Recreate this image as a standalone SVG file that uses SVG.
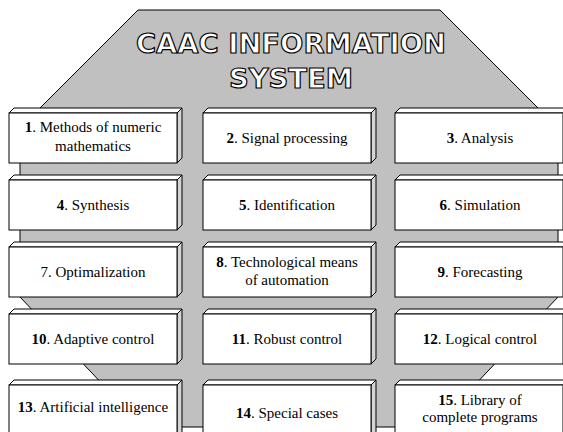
<svg xmlns="http://www.w3.org/2000/svg" width="563" height="432" viewBox="0 0 563 432">
<style>
.bg{fill:#c0c0c0;stroke:#000;stroke-width:1}
.fr{fill:#fff;stroke:#000;stroke-width:1}
.tp{fill:#fff;stroke:#000;stroke-width:1}
.sd{fill:#d4d4d4;stroke:#000;stroke-width:1}
.t{font-family:'Liberation Serif','Times New Roman','DejaVu Serif',serif;font-size:15px;fill:#000;text-anchor:middle}
.b{font-weight:bold}
.title{font-family:'DejaVu Sans',sans-serif;font-weight:bold;font-size:26px;fill:#fff;stroke:#000;stroke-width:1.1;text-anchor:middle}
</style>
<rect x="0" y="0" width="563" height="432" fill="#fff"/>
<g id="background">
<polygon class="bg" points="138,10 440,10 558,128 558,297 435,427 143,427 20,297 20,128"/>
<text class="title" x="291" y="53" textLength="310" lengthAdjust="spacingAndGlyphs">CAAC INFORMATION</text>
<text class="title" x="291" y="88" textLength="124" lengthAdjust="spacingAndGlyphs">SYSTEM</text>
</g>
<g id="connectors"></g>

<g id="n1">
<polygon class="tp" points="9,113 14,108 182,108 177,113"/>
<polygon class="sd" points="177,113 182,108 182,158 177,163"/>
<rect class="fr" x="9" y="113" width="168" height="50"/>
<text class="t" x="93" y="132"><tspan class="b">1</tspan>. Methods of numeric</text>
<text class="t" x="93" y="151">mathematics</text>
</g>
<g id="n2">
<polygon class="tp" points="203,113 208,108 376,108 371,113"/>
<polygon class="sd" points="371,113 376,108 376,158 371,163"/>
<rect class="fr" x="203" y="113" width="168" height="50"/>
<text class="t" x="287" y="143"><tspan class="b">2</tspan>. Signal processing</text>
</g>
<g id="n3">
<polygon class="tp" points="395,113 400,108 568,108 563,113"/>
<polygon class="sd" points="563,113 568,108 568,158 563,163"/>
<rect class="fr" x="395" y="113" width="168" height="50"/>
<text class="t" x="480" y="143"><tspan class="b">3</tspan>. Analysis</text>
</g>

<g id="n4">
<polygon class="tp" points="9,180 14,175 182,175 177,180"/>
<polygon class="sd" points="177,180 182,175 182,225 177,230"/>
<rect class="fr" x="9" y="180" width="168" height="50"/>
<text class="t" x="93" y="210"><tspan class="b">4</tspan>. Synthesis</text>
</g>
<g id="n5">
<polygon class="tp" points="203,180 208,175 376,175 371,180"/>
<polygon class="sd" points="371,180 376,175 376,225 371,230"/>
<rect class="fr" x="203" y="180" width="168" height="50"/>
<text class="t" x="287" y="210"><tspan class="b">5</tspan>. Identification</text>
</g>
<g id="n6">
<polygon class="tp" points="395,180 400,175 568,175 563,180"/>
<polygon class="sd" points="563,180 568,175 568,225 563,230"/>
<rect class="fr" x="395" y="180" width="168" height="50"/>
<text class="t" x="480" y="210"><tspan class="b">6</tspan>. Simulation</text>
</g>

<g id="n7">
<polygon class="tp" points="9,247 14,242 182,242 177,247"/>
<polygon class="sd" points="177,247 182,242 182,292 177,297"/>
<rect class="fr" x="9" y="247" width="168" height="50"/>
<text class="t" x="93" y="277">7. Optimalization</text>
</g>
<g id="n8">
<polygon class="tp" points="203,247 208,242 376,242 371,247"/>
<polygon class="sd" points="371,247 376,242 376,292 371,297"/>
<rect class="fr" x="203" y="247" width="168" height="50"/>
<text class="t" x="287" y="267"><tspan class="b">8</tspan>. Technological means</text>
<text class="t" x="287" y="285">of automation</text>
</g>
<g id="n9">
<polygon class="tp" points="395,247 400,242 568,242 563,247"/>
<polygon class="sd" points="563,247 568,242 568,292 563,297"/>
<rect class="fr" x="395" y="247" width="168" height="50"/>
<text class="t" x="480" y="277"><tspan class="b">9</tspan>. Forecasting</text>
</g>

<g id="n10">
<polygon class="tp" points="9,314 14,309 182,309 177,314"/>
<polygon class="sd" points="177,314 182,309 182,359 177,364"/>
<rect class="fr" x="9" y="314" width="168" height="50"/>
<text class="t" x="93" y="344"><tspan class="b">10</tspan>. Adaptive control</text>
</g>
<g id="n11">
<polygon class="tp" points="203,314 208,309 376,309 371,314"/>
<polygon class="sd" points="371,314 376,309 376,359 371,364"/>
<rect class="fr" x="203" y="314" width="168" height="50"/>
<text class="t" x="287" y="344"><tspan class="b">11</tspan>. Robust control</text>
</g>
<g id="n12">
<polygon class="tp" points="395,314 400,309 568,309 563,314"/>
<polygon class="sd" points="563,314 568,309 568,359 563,364"/>
<rect class="fr" x="395" y="314" width="168" height="50"/>
<text class="t" x="480" y="344"><tspan class="b">12</tspan>. Logical control</text>
</g>

<g id="n13">
<polygon class="tp" points="9,385 14,380 182,380 177,385"/>
<polygon class="sd" points="177,385 182,380 182,440 177,445"/>
<rect class="fr" x="9" y="385" width="168" height="60"/>
<text class="t" x="93" y="412"><tspan class="b">13</tspan>. Artificial intelligence</text>
</g>
<g id="n14">
<polygon class="tp" points="203,385 208,380 376,380 371,385"/>
<polygon class="sd" points="371,385 376,380 376,440 371,445"/>
<rect class="fr" x="203" y="385" width="168" height="60"/>
<text class="t" x="287" y="418"><tspan class="b">14</tspan>. Special cases</text>
</g>
<g id="n15">
<polygon class="tp" points="395,385 400,380 568,380 563,385"/>
<polygon class="sd" points="563,385 568,380 568,440 563,445"/>
<rect class="fr" x="395" y="385" width="168" height="60"/>
<text class="t" x="480" y="405"><tspan class="b">15</tspan>. Library of</text>
<text class="t" x="480" y="422">complete programs</text>
</g>
</svg>
